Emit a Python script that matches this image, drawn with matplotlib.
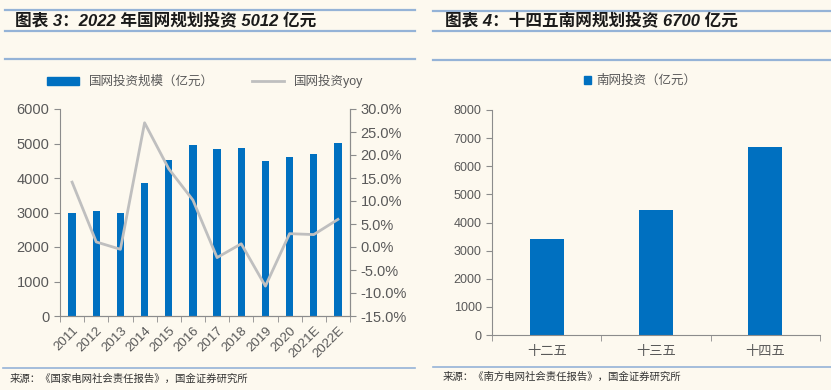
import matplotlib.pyplot as plt
import numpy as np
from matplotlib.lines import Line2D
from matplotlib.patches import Patch
from matplotlib.ticker import FuncFormatter

plt.rcParams['font.family'] = ['Liberation Sans', 'Noto Sans CJK SC']

years = ['2011', '2012', '2013', '2014', '2015', '2016', '2017', '2018',
         '2019', '2020', '2021E', '2022E']
sgcc_invest = [3000, 3050, 3000, 3855, 4520, 4955, 4850, 4880, 4485, 4610, 4705, 5012]
sgcc_yoy = [14.1, 1.1, -0.5, 27.0, 17.0, 10.2, -2.3, 0.7, -8.5, 2.9, 2.7, 6.0]

plans = ['十二五', '十三五', '十四五']
csg_invest = [3400, 4450, 6700]

BG = '#FDF9EF'
BLUE = '#0070C0'
GRAY = '#BFBFBF'
AX = '#8C8C8C'
TXT = '#595959'
RULE = '#95B3D7'

W, H = 831, 390
fig = plt.figure(figsize=(W / 100, H / 100), dpi=100, facecolor=BG)


def px(x0, y0, x1, y1):
    return [x0 / W, 1 - y1 / H, (x1 - x0) / W, (y1 - y0) / H]


def rule(x0, x1, y, lw=1.6):
    fig.add_artist(Line2D([x0 / W, x1 / W], [1 - y / H, 1 - y / H],
                          color=RULE, lw=lw, transform=fig.transFigure))


def style(ax):
    ax.set_facecolor(BG)
    for s in ax.spines.values():
        s.set_color(AX)
    ax.spines['top'].set_visible(False)
    ax.tick_params(colors=AX, labelcolor=TXT, labelsize=10.5, length=4)


# ---- left panel ----
for y in (10, 31, 59):
    rule(5, 415, y)
rule(3, 415, 368, lw=1.2)
fig.text(15 / W, 1 - 21 / H, '图表 3：2022 年国网规划投资 5012 亿元', fontsize=12,
         fontweight='bold', style='italic', color='#1a1a1a', va='center')
fig.text(10 / W, 1 - 379 / H, '来源：《国家电网社会责任报告》，国金证券研究所',
         fontsize=7.5, color='#333333', va='center')

ax1 = fig.add_axes(px(60, 109, 350, 316))
style(ax1)
x = np.arange(len(years))
ax1.bar(x, sgcc_invest, width=0.3, color=BLUE, zorder=2)
ax1.set_xlim(-0.5, len(years) - 0.5)
ax1.set_ylim(0, 6000)
ax1.set_yticks(np.arange(0, 6001, 1000))
ax1.set_xticks(x)
ax1.set_xticklabels(years, rotation=45, ha='right', rotation_mode='anchor')
ax1.tick_params(axis='x', length=0, pad=6, labelsize=9.5)
ax1.set_xticks(np.arange(-0.5, len(years)), minor=True)
ax1.tick_params(axis='x', which='minor', length=4, color=AX)

ax2 = ax1.twinx()
style(ax2)
ax2.spines['left'].set_visible(False)
ax2.plot(x, sgcc_yoy, color=GRAY, lw=2, zorder=3)
ax2.set_ylim(-15, 30)
ax2.set_yticks(np.arange(-15, 31, 5))
ax2.yaxis.set_major_formatter(FuncFormatter(lambda v, p: f'{v:.1f}%'))

h = [Patch(color=BLUE), Line2D([], [], color=GRAY, lw=2)]
fig.legend(h, ['国网投资规模（亿元）', '国网投资yoy'], loc='center',
           bbox_to_anchor=(205 / W, 1 - 81 / H), ncol=2, frameon=False,
           fontsize=9, labelcolor=TXT, handlelength=2.6, handleheight=0.6,
           columnspacing=3)

# ---- right panel ----
for y in (11, 31, 60):
    rule(433, 831, y)
rule(433, 831, 367, lw=1.2)
fig.text(445 / W, 1 - 21 / H, '图表 4：十四五南网规划投资 6700 亿元', fontsize=12,
         fontweight='bold', style='italic', color='#1a1a1a', va='center')
fig.text(443 / W, 1 - 377 / H, '来源：《南方电网社会责任报告》，国金证券研究所',
         fontsize=7.5, color='#333333', va='center')

ax3 = fig.add_axes(px(492, 110, 820, 335))
style(ax3)
ax3.spines['right'].set_visible(False)
xr = np.arange(len(plans))
ax3.bar(xr, csg_invest, width=0.31, color=BLUE, zorder=2)
ax3.set_xlim(-0.5, len(plans) - 0.5)
ax3.set_ylim(0, 8000)
ax3.set_yticks(np.arange(0, 8001, 1000))
ax3.tick_params(axis='y', labelsize=9)
ax3.set_xticks(xr)
ax3.set_xticklabels(plans)
ax3.tick_params(axis='x', length=0, pad=8, labelsize=9.5)
ax3.set_xticks(np.arange(-0.5, len(plans)), minor=True)
ax3.tick_params(axis='x', which='minor', length=4, color=AX)

fig.legend([Patch(color=BLUE)], ['南网投资（亿元）'], loc='center',
           bbox_to_anchor=(640 / W, 1 - 81 / H), frameon=False, fontsize=9,
           labelcolor=TXT, handlelength=0.6, handleheight=0.6, handletextpad=0.4)

fig.savefig('out.png', dpi=100, facecolor=BG)
